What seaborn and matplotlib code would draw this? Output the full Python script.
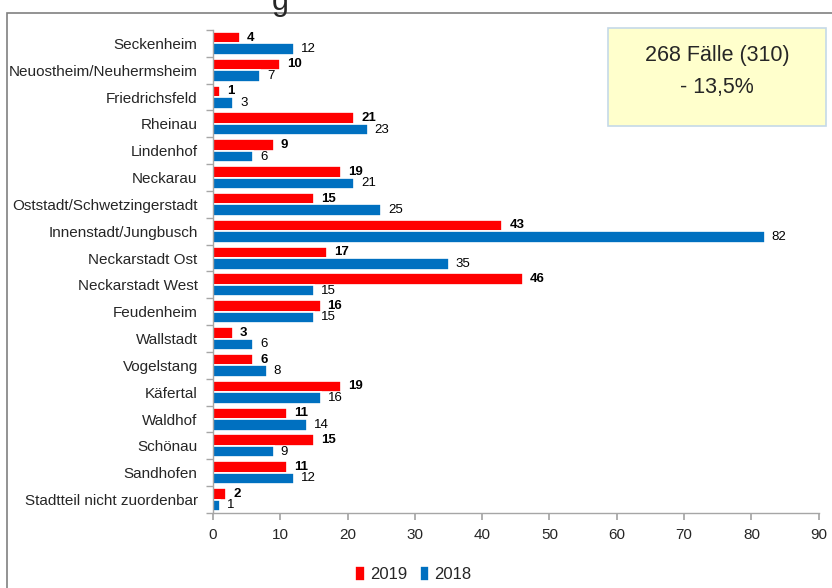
import matplotlib
matplotlib.use("Agg")
import matplotlib.pyplot as plt
import seaborn as sns
import pandas as pd
import numpy as np
from matplotlib.patches import Rectangle

districts = ["Seckenheim", "Neuostheim/Neuhermsheim", "Friedrichsfeld", "Rheinau",
             "Lindenhof", "Neckarau", "Oststadt/Schwetzingerstadt", "Innenstadt/Jungbusch",
             "Neckarstadt Ost", "Neckarstadt West", "Feudenheim", "Wallstadt", "Vogelstang",
             "Käfertal", "Waldhof", "Schönau", "Sandhofen", "Stadtteil nicht zuordenbar"]
v2019 = [4, 10, 1, 21, 9, 19, 15, 43, 17, 46, 16, 3, 6, 19, 11, 15, 11, 2]
v2018 = [12, 7, 3, 23, 6, 21, 25, 82, 35, 15, 15, 6, 8, 16, 14, 9, 12, 1]
years = ["2019", "2018"]
xticks = [0, 10, 20, 30, 40, 50, 60, 70, 80, 90]
box_lines = ["268 Fälle (310)", "- 13,5%"]

sns.set_theme(style="white")
plt.rcParams['font.family'] = ['Liberation Sans', 'DejaVu Sans']

df = pd.DataFrame({
    "Stadtteil": districts * 2,
    "Fälle": v2019 + v2018,
    "Jahr": [years[0]] * len(districts) + [years[1]] * len(districts),
})

fig = plt.figure(figsize=(8.32, 5.88), dpi=100)
ax = fig.add_axes([0.256, 0.1276, 0.728, 0.8214])

sns.barplot(data=df, y="Stadtteil", x="Fälle", hue="Jahr", orient="h",
            palette={"2019": "#FF0000", "2018": "#0070C0"}, saturation=1, width=0.86,
            edgecolor="white", linewidth=1.2, ax=ax, legend=True)

ax.set_xlim(0, 90)
ax.set_xticks(xticks)
ax.set_ylim(len(districts) - 0.5, -0.5)
ax.set_xlabel("")
ax.set_ylabel("")

for cont, yr in zip(ax.containers, years):
    if yr == "2019":
        ax.bar_label(cont, padding=5, fontsize=9.5, fontweight="bold", color="black")
    else:
        ax.bar_label(cont, padding=5, fontsize=9.5, color="black")

for s in ["top", "right"]:
    ax.spines[s].set_visible(False)
for s in ["left", "bottom"]:
    ax.spines[s].set_color("#A6A6A6")
    ax.spines[s].set_linewidth(1)

ax.tick_params(axis="x", bottom=True, length=5, color="#A6A6A6", labelsize=11, pad=6)
ax.tick_params(axis="y", which="major", left=False, labelsize=11, pad=5)
ax.set_yticks(np.arange(-0.5, len(districts), 1), minor=True)
ax.tick_params(axis="y", which="minor", left=True, length=5, color="#A6A6A6")

leg = ax.get_legend()
handles = leg.legend_handles
leg.remove()
fig.legend(handles, years, loc="center", bbox_to_anchor=(0.497, 0.024), ncol=2,
           frameon=False, fontsize=12, handlelength=0.55, handleheight=1.0,
           handletextpad=0.3, columnspacing=0.8)

# info box
fig.patches.append(Rectangle((608 / 832, 1 - 126 / 588), (826 - 608) / 832, (126 - 28) / 588,
                             transform=fig.transFigure, facecolor="#FFFFCC",
                             edgecolor="#C5D9E8", linewidth=1.2, zorder=0))
fig.text(717 / 832, 1 - 55 / 588, box_lines[0], ha="center", va="center", fontsize=15.5)
fig.text(717 / 832, 1 - 87 / 588, box_lines[1], ha="center", va="center", fontsize=15.5)

# outer frame
fig.patches.append(Rectangle((7 / 832, -0.05), 1.0, 1 - 13 / 588 + 0.05,
                             transform=fig.transFigure, facecolor="none",
                             edgecolor="#808080", linewidth=1.2, zorder=0))
# cut-off title remnant
fig.text(280 / 832, 1 - 2 / 588, "g", ha="center", va="center", fontsize=22)

fig.savefig("out.png", dpi=100)
